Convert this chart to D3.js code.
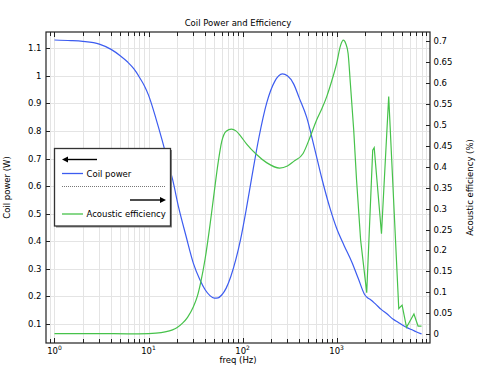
<!DOCTYPE html>
<html><head><meta charset="utf-8">
<script src="https://cdn.jsdelivr.net/npm/d3@7"></script>
<style>body{margin:0;background:#fff}svg{display:block}text{font-family:"DejaVu Sans",sans-serif;fill:#000}</style>
</head><body>
<script>
const title = "Coil Power and Efficiency";
const xLabel = "freq (Hz)";
const yLeftLabel = "Coil power (W)";
const yRightLabel = "Acoustic efficiency (%)";
const seriesNames = ["Coil power", "Acoustic efficiency"];

const powerFreq = [1,1.5,2,3,4,5,6,7,8,9,10,12,14,16,18,21,25,30,35,40,45,50,55,60,67,75,85,95,110,125,150,180,220,265,300,350,400,480,580,700,850,1000,1200,1450,1700,2000,2100,2300,2600,3000,3400,4000,4500,5000,5500,6500,7000,8000];
const powerVal  = [1.13,1.128,1.125,1.115,1.096,1.073,1.05,1.025,0.995,0.965,0.93,0.845,0.765,0.69,0.625,0.52,0.42,0.32,0.262,0.224,0.203,0.194,0.195,0.205,0.23,0.272,0.335,0.405,0.52,0.63,0.78,0.9,0.98,1.007,1.0,0.97,0.92,0.85,0.74,0.625,0.52,0.447,0.385,0.325,0.265,0.205,0.197,0.188,0.172,0.152,0.138,0.117,0.106,0.096,0.088,0.077,0.072,0.064];

const effFreq = [1,3,6,10,12,15,18,20,23,26,30,33,36,40,45,50,55,60,67,76,85,95,110,140,180,248,300,350,440,520,613,700,785,900,1000,1100,1180,1250,1325,1400,1520,1630,1800,2090,2420,2510,3000,3580,4580,4970,5540,6640,7350,8000];
const effVal  = [0.001,0.001,0.0005,0.001,0.002,0.005,0.01,0.015,0.026,0.04,0.065,0.09,0.125,0.18,0.26,0.34,0.41,0.46,0.485,0.49,0.486,0.474,0.455,0.43,0.41,0.397,0.402,0.413,0.432,0.47,0.512,0.54,0.568,0.61,0.647,0.69,0.703,0.695,0.671,0.6,0.488,0.368,0.225,0.099,0.44,0.446,0.24,0.568,0.061,0.069,0.016,0.048,0.019,0.019];

const leftTicks = [0.1,0.2,0.3,0.4,0.5,0.6,0.7,0.8,0.9,1,1.1];
const rightTicks = [0,0.05,0.1,0.15,0.2,0.25,0.3,0.35,0.4,0.45,0.5,0.55,0.6,0.65,0.7];
const xMajor = [1,10,100,1000];

const W=479,H=366, L=46,R=430,T=32,B=343;
const blue="#3c5cf0", green="#46c24a";
const svg=d3.select("body").append("svg").attr("width",W).attr("height",H);
const x=d3.scaleLog().domain([Math.pow(10,-0.09),Math.pow(10,3.993)]).range([L,R]);
const yL=d3.scaleLinear().domain([0.031,1.159]).range([B,T]);
const yR=d3.scaleLinear().domain([-0.0215,0.7225]).range([B,T]);

const xMinor=[0.9];
[1,10,100,1000].forEach(d=>{for(let k=2;k<=9;k++) xMinor.push(d*k);});
const allX = xMajor.concat(xMinor).filter(v=>x(v)>=L&&x(v)<=R);

const g=svg.append("g");
g.selectAll(".gx").data(allX).enter().append("line")
 .attr("x1",d=>Math.round(x(d))+0.5).attr("x2",d=>Math.round(x(d))+0.5).attr("y1",T).attr("y2",B)
 .attr("stroke","#e4e4e4").attr("stroke-width",1);
g.selectAll(".gy").data(leftTicks).enter().append("line")
 .attr("y1",d=>Math.round(yL(d))+0.5).attr("y2",d=>Math.round(yL(d))+0.5).attr("x1",L).attr("x2",R)
 .attr("stroke","#e4e4e4").attr("stroke-width",1);

const lineP=d3.line().x(d=>x(d[0])).y(d=>yL(d[1])).curve(d3.curveMonotoneX);
g.append("path").datum(powerFreq.map((f,i)=>[f,powerVal[i]])).attr("d",lineP)
 .attr("fill","none").attr("stroke",blue).attr("stroke-width",1.2);
const effPts=effFreq.map((f,i)=>[f,effVal[i]]);
const lineE=d3.line().x(d=>x(d[0])).y(d=>yR(d[1])).curve(d3.curveMonotoneX);
const lineE2=d3.line().x(d=>x(d[0])).y(d=>yR(d[1]));
g.append("path").datum(effPts.filter(d=>d[0]<=1520)).attr("d",lineE)
 .attr("fill","none").attr("stroke",green).attr("stroke-width",1.2);
g.append("path").datum(effPts.filter(d=>d[0]>=1520)).attr("d",lineE2)
 .attr("fill","none").attr("stroke",green).attr("stroke-width",1.2);

g.append("rect").attr("x",L).attr("y",T).attr("width",R-L).attr("height",B-T)
 .attr("fill","none").attr("stroke","#222").attr("stroke-width",1.2);

allX.forEach(v=>{
  const xx=Math.round(x(v))+0.5, len = xMajor.includes(v)?5:4;
  g.append("line").attr("x1",xx).attr("x2",xx).attr("y1",B).attr("y2",B-len).attr("stroke","#222");
  g.append("line").attr("x1",xx).attr("x2",xx).attr("y1",T).attr("y2",T+len).attr("stroke","#222");
});
xMajor.forEach((v,i)=>{
  const t=g.append("text").attr("x",x(v)).attr("y",353.5).attr("text-anchor","middle").attr("font-size",8.5);
  t.append("tspan").text("10");
  t.append("tspan").attr("dy",-4).attr("font-size",6).text(String(i));
});
leftTicks.forEach(v=>{
  const yy=Math.round(yL(v))+0.5;
  g.append("line").attr("x1",L).attr("x2",L+4).attr("y1",yy).attr("y2",yy).attr("stroke","#222");
  g.append("text").attr("x",41.5).attr("y",yL(v)+3).attr("text-anchor","end").attr("font-size",8.5).text(d3.format("~g")(v));
});
rightTicks.forEach(v=>{
  const yy=Math.round(yR(v))+0.5;
  g.append("line").attr("x1",R-4).attr("x2",R).attr("y1",yy).attr("y2",yy).attr("stroke","#222");
  g.append("text").attr("x",433.5).attr("y",yR(v)+3).attr("font-size",8.5).text(d3.format("~g")(v));
});

svg.append("text").attr("x",238).attr("y",26).attr("text-anchor","middle").attr("font-size",8.5).text(title);
svg.append("text").attr("x",238).attr("y",362.5).attr("text-anchor","middle").attr("font-size",8.5).text(xLabel);
svg.append("text").attr("transform","translate(10,187.5) rotate(-90)").attr("text-anchor","middle").attr("font-size",8.5).text(yLeftLabel);
svg.append("text").attr("transform","translate(473,187.5) rotate(-90)").attr("text-anchor","middle").attr("font-size",8.5).text(yRightLabel);

const lg=svg.append("g");
lg.append("rect").attr("x",56).attr("y",150).attr("width",116).attr("height",77.5).attr("fill","#8a8a8a");
lg.append("rect").attr("x",54.5).attr("y",148.5).attr("width",116).attr("height",77.5).attr("fill","#fff").attr("stroke","#333").attr("stroke-width",1.3);
function arrow(x1,x2,y){
  const dir = x2>x1?1:-1;
  lg.append("line").attr("x1",x1).attr("x2",x2-dir*5).attr("y1",y).attr("y2",y).attr("stroke","#000").attr("stroke-width",1.4);
  lg.append("path").attr("d",`M${x2},${y} L${x2-dir*6},${y-3} L${x2-dir*6},${y+3} Z`).attr("fill","#000");
}
arrow(97,62,159.5);
lg.append("line").attr("x1",62).attr("x2",83).attr("y1",173.5).attr("y2",173.5).attr("stroke",blue).attr("stroke-width",1.3);
lg.append("text").attr("x",86.5).attr("y",176.5).attr("font-size",8.5).text(seriesNames[0]);
lg.append("line").attr("x1",62).attr("x2",166).attr("y1",186.5).attr("y2",186.5).attr("stroke","#777").attr("stroke-width",1).attr("stroke-dasharray","1,1");
arrow(130,166,200);
lg.append("line").attr("x1",62).attr("x2",83).attr("y1",214).attr("y2",214).attr("stroke",green).attr("stroke-width",1.3);
lg.append("text").attr("x",86.5).attr("y",217).attr("font-size",8.5).text(seriesNames[1]);
</script>
</body></html>
